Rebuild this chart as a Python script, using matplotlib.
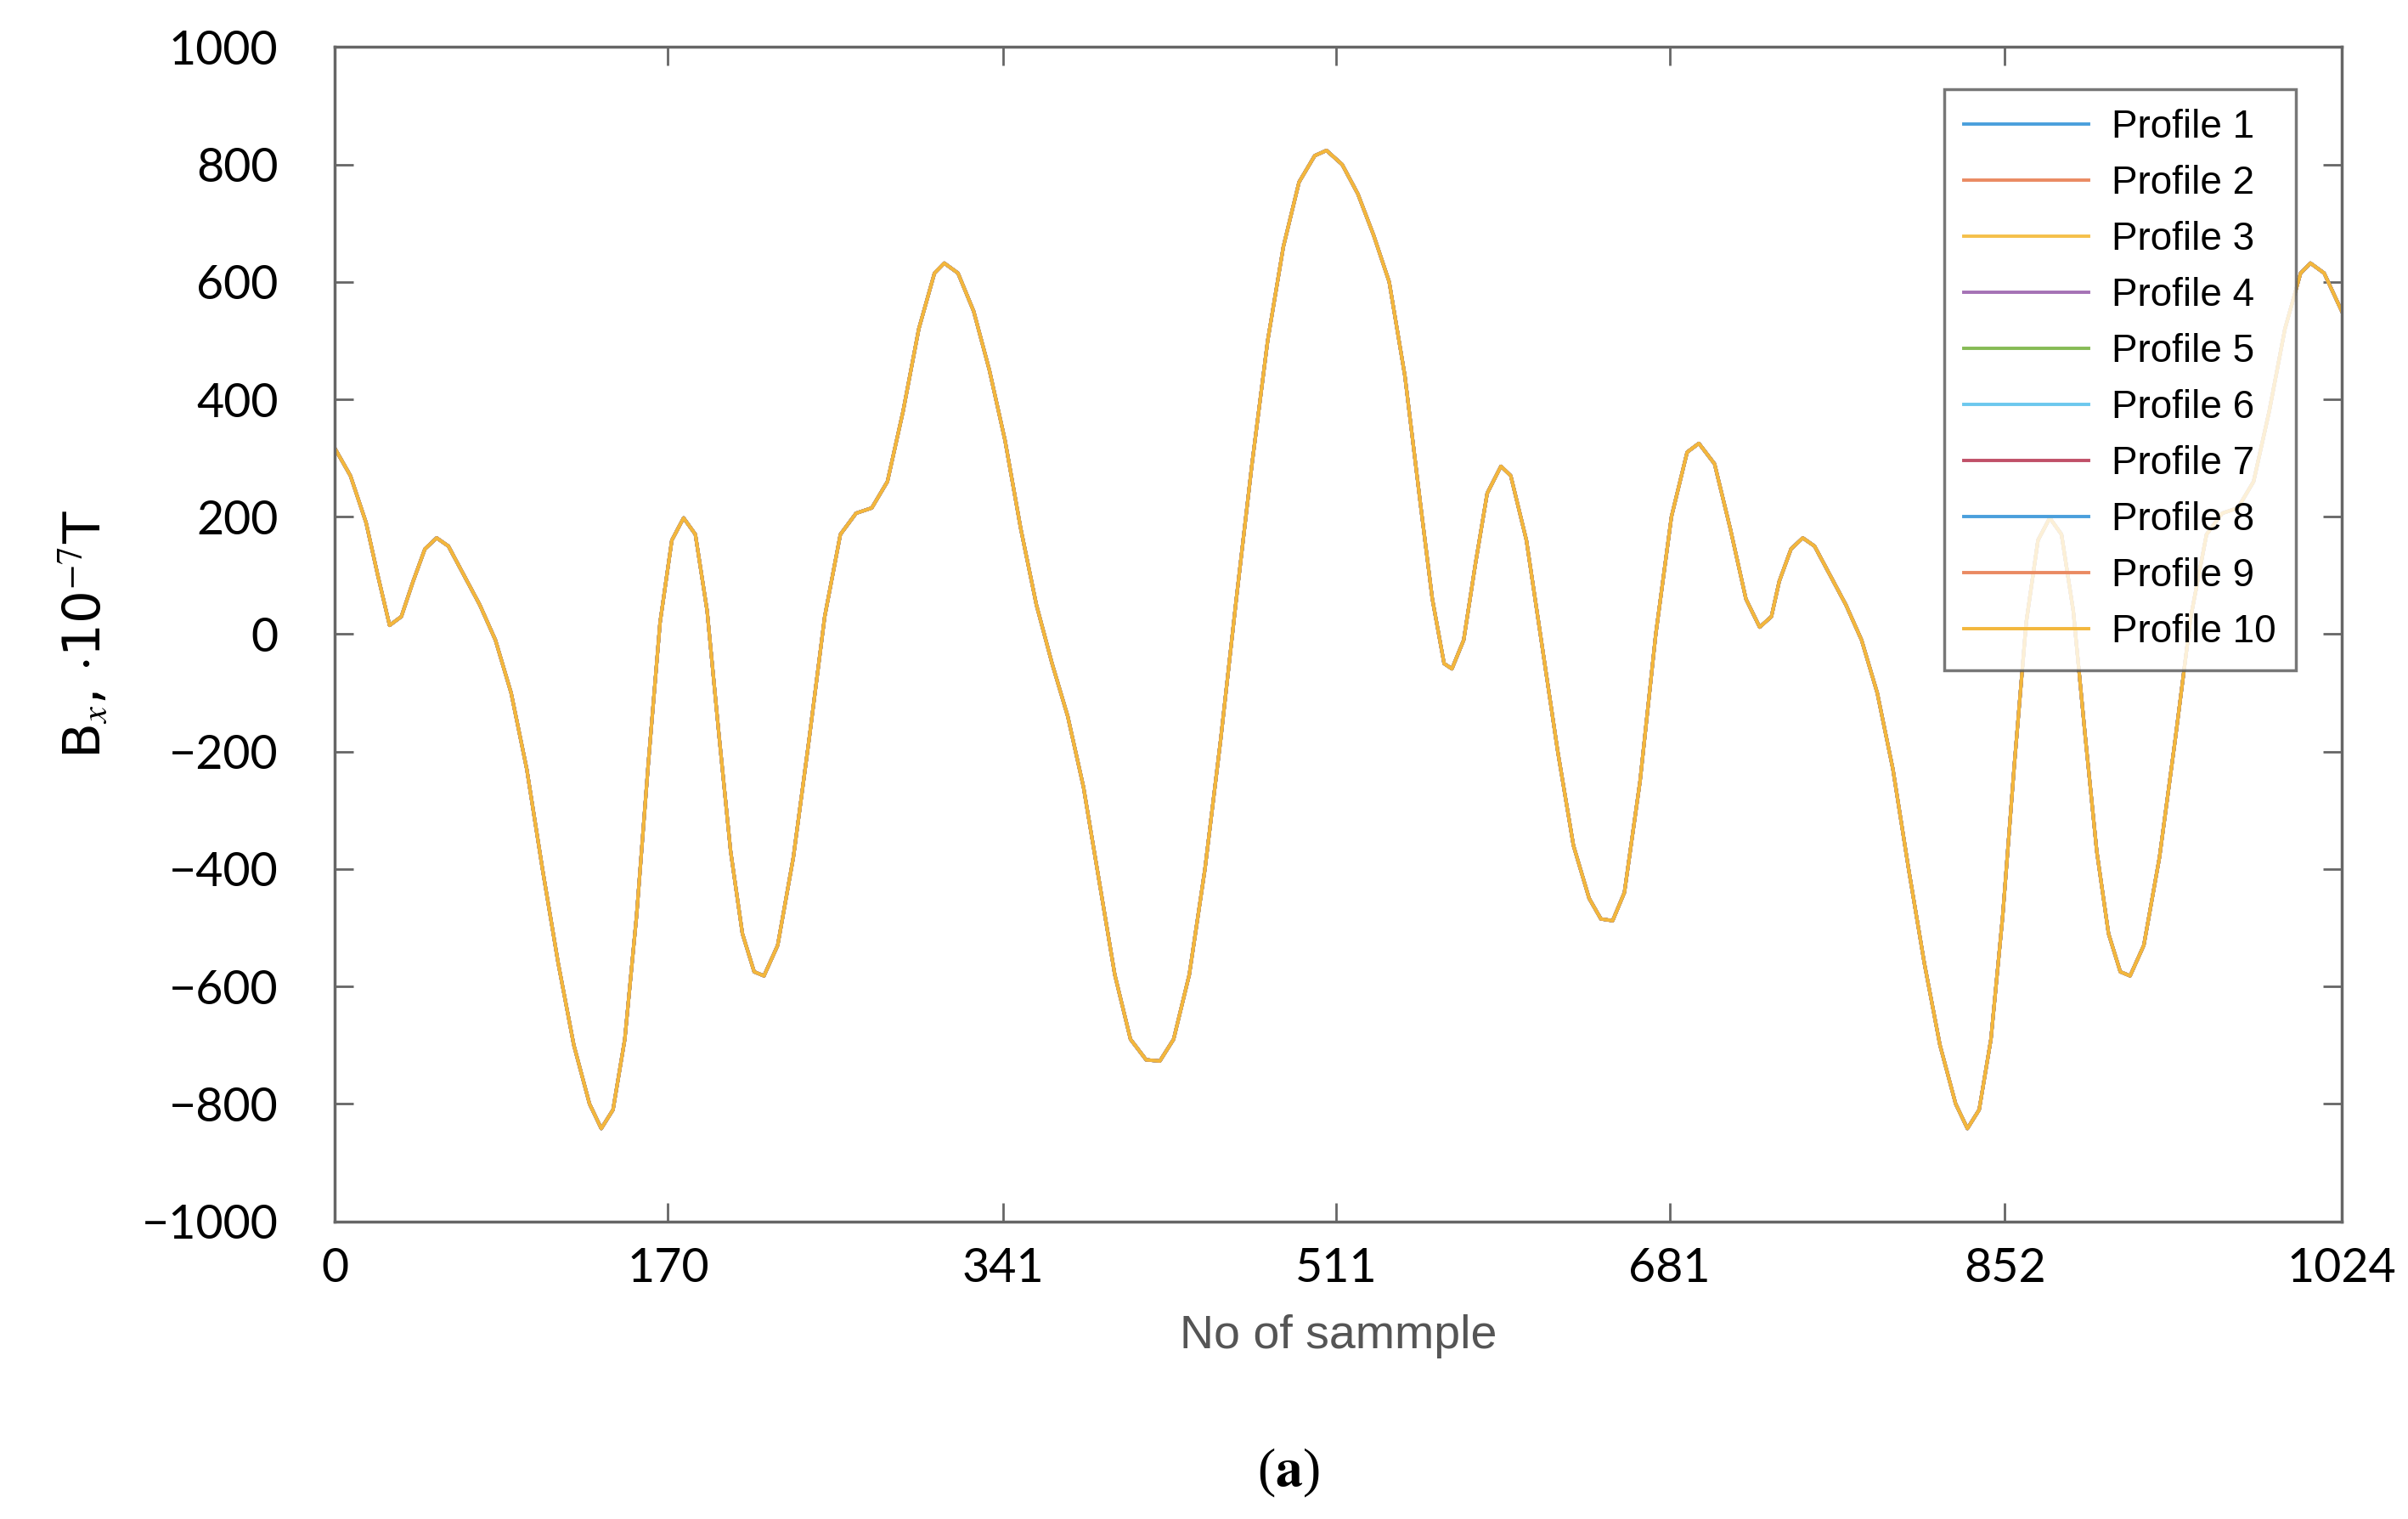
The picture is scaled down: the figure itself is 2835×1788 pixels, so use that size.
import numpy as np
import matplotlib.pyplot as plt

# sample index and Bx values (all profiles coincide)
sample = [0, 8, 16, 22, 28, 34, 40, 46, 52, 58, 66, 74, 82, 90, 98, 106, 114, 122, 130, 136,
          142, 148, 154, 160, 166, 172, 178, 184, 190, 196, 202, 208, 214, 219, 226, 234, 242, 250,
          258, 266, 274, 282, 290, 298, 306, 311, 318, 326, 334, 342, 350, 358, 366, 374, 382, 390,
          398, 406, 414, 421, 428, 436, 444, 452, 460, 468, 476, 484, 492, 500, 506, 514, 522, 530,
          538, 546, 554, 560, 566, 570, 576, 582, 588, 595, 600, 608, 616, 624, 632, 640, 646, 652,
          658, 666, 674, 682, 690, 696, 704, 712, 720, 727, 733, 737, 743, 749, 755, 763, 771, 779,
          787, 795, 803, 811, 819, 827, 833, 839, 845, 851, 857, 863, 869, 875, 881, 887, 893, 899,
          905, 911, 916, 923, 931, 939, 947, 955, 963, 971, 979, 987, 995, 1003, 1008, 1015, 1024]
bx = [317, 270, 190, 100, 15, 30, 90, 145, 164, 150, 100, 50, -10, -100, -230, -400, -560, -700, -800, -842,
      -810, -690, -480, -220, 20, 160, 198, 170, 40, -170, -370, -510, -575, -582, -530, -380, -180, 30,
      170, 206, 215, 260, 380, 520, 615, 632, 615, 550, 450, 330, 180, 50, -50, -140, -260, -420,
      -580, -690, -725, -727, -690, -580, -400, -180, 60, 290, 500, 660, 770, 815, 824, 800, 750, 680,
      600, 440, 220, 60, -50, -59, -10, 120, 240, 286, 270, 160, -20, -200, -360, -450, -485, -488,
      -440, -250, 0, 200, 310, 325, 290, 180, 60, 12, 30, 90, 145, 164, 150, 100, 50, -10,
      -100, -230, -400, -560, -700, -800, -842, -810, -690, -480, -220, 20, 160, 198, 170, 40, -170, -370,
      -510, -575, -582, -530, -380, -180, 30, 170, 206, 215, 260, 380, 520, 615, 632, 615, 550]

profiles = [f"Profile {i}" for i in range(1, 11)]
colors = ["#4a9fdc", "#ea8a62", "#f5c04a", "#a572b5", "#86bb55",
          "#6cc8ee", "#c05068", "#4a9fdc", "#ea8a62", "#f3b73c"]

xticks = [0, 170, 341, 511, 681, 852, 1024]
yticks = list(range(-1000, 1001, 200))

plt.rcParams["mathtext.fontset"] = "stix"
fig = plt.figure(figsize=(28.35, 17.88), dpi=100)
ax = fig.add_axes([0.139, 0.196, 0.8335, 0.773])

for name, c in zip(profiles, colors):
    ax.plot(sample, bx, color=c, lw=2.8, label=name, solid_joinstyle="round")

ax.set_xlim(0, 1024)
ax.set_ylim(-1000, 1000)
ax.set_xticks(xticks)
ax.set_yticks(yticks)
ax.tick_params(direction="in", top=True, right=True, length=16, width=2, color="#666666")
ax.tick_params(axis="y", pad=48, labelsize=40)
ax.tick_params(axis="x", pad=22, labelsize=40)
for lab in ax.get_xticklabels() + ax.get_yticklabels():
    lab.set_family("Lato")
for s in ax.spines.values():
    s.set_color("#666666")
    s.set_linewidth(2.5)

ax.set_xlabel("No of sammple", fontsize=40, color="#555555", family="Liberation Sans", labelpad=20)
ax.set_ylabel(r"B$_x$, $\cdot$10$^{-7}$T", fontsize=44, family="DejaVu Sans", labelpad=25)

leg = ax.legend(loc="upper right", bbox_to_anchor=(0.977, 0.964), borderaxespad=0,
                prop={"family": "Liberation Sans", "size": 33}, fancybox=False,
                handlelength=3.2, labelspacing=0.48, borderpad=0.5, handletextpad=0.6)
leg.get_frame().set_edgecolor("#555555")
leg.get_frame().set_linewidth(2.5)

fig.text(0.535, 0.03, r"($\mathbf{a}$)", ha="center", va="center", fontsize=46,
         family="Liberation Serif")

fig.savefig("out.png", dpi=100)
